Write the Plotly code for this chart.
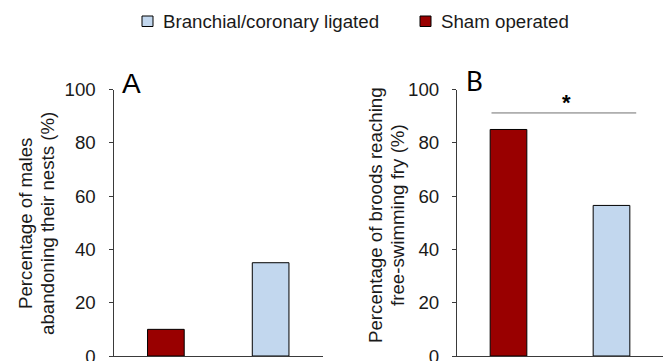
import plotly.graph_objects as go

# Treatment groups and outcome percentages
groups = ["Sham operated", "Branchial/coronary ligated"]
legend_order = ["Branchial/coronary ligated", "Sham operated"]
colors = {"Sham operated": "#990000", "Branchial/coronary ligated": "#C2D7EE"}
abandon_pct = {"Sham operated": 10, "Branchial/coronary ligated": 35}
fry_pct = {"Sham operated": 85, "Branchial/coronary ligated": 56.5}
y_ticks = [0, 20, 40, 60, 80, 100]
sig_level = 91.2  # height of the significance bar in panel B

W, H = 663, 361
FONT = "Liberation Sans, Arial, sans-serif"
FS = 18.7
TXT = "#1a1a1a"
AXC = "#3a3a3a"

fig = go.Figure()

for g in groups:
    fig.add_trace(go.Bar(
        x=[g], y=[abandon_pct[g]], name=g, xaxis="x", yaxis="y",
        marker=dict(color=colors[g], line=dict(color="#000000", width=1)),
        width=0.35, showlegend=False,
    ))
    fig.add_trace(go.Bar(
        x=[g], y=[fry_pct[g]], name=g, xaxis="x2", yaxis="y2",
        marker=dict(color=colors[g], line=dict(color="#000000", width=1)),
        width=0.356, showlegend=False,
    ))

# panel geometry in pixels
ax_a = (113.5, 323)
ax_b = (457, 663)
y_top, y_bot = 89.5, 356
ydom = [(H - y_bot) / H, (H - y_top) / H]

axis_common = dict(
    showgrid=False, zeroline=False, showline=True, linecolor=AXC,
    linewidth=1, automargin=False,
)
y_common = dict(
    axis_common, range=[0, 100], tickvals=y_ticks,
    ticks="outside", ticklen=4, tickcolor=AXC, tickwidth=1,
    ticklabelstandoff=9, ticklabeloverflow="allow",
    tickfont=dict(family=FONT, size=FS, color=TXT), domain=ydom,
)
x_common = dict(axis_common, showticklabels=False, ticks="", type="category",
                range=[-0.5, 1.5], categoryorder="array", categoryarray=groups)

fig.update_layout(
    width=W, height=H,
    margin=dict(l=0, r=0, t=0, b=0),
    paper_bgcolor="white", plot_bgcolor="white",
    barmode="overlay", showlegend=False,
    xaxis=dict(x_common, domain=[ax_a[0] / W, ax_a[1] / W], anchor="y"),
    yaxis=dict(y_common, anchor="x"),
    xaxis2=dict(x_common, domain=[ax_b[0] / W, ax_b[1] / W], anchor="y2"),
    yaxis2=dict(y_common, anchor="x2"),
)

shapes = []
annotations = []

# legend: coloured key squares followed by group names
legend_x = {"Branchial/coronary ligated": 142, "Sham operated": 420}
for g in legend_order:
    x0 = legend_x[g]
    shapes.append(dict(type="rect", xref="paper", yref="paper",
                       x0=x0 / W, x1=(x0 + 11) / W,
                       y0=(H - 26.5) / H, y1=(H - 16) / H,
                       fillcolor=colors[g], line=dict(color="#000000", width=1)))
    annotations.append(dict(text=g, x=(x0 + 19) / W, y=(H - 21) / H,
                            xref="paper", yref="paper", xanchor="left",
                            yanchor="middle", showarrow=False,
                            font=dict(family=FONT, size=FS, color=TXT)))

# significance bar across panel B
shapes.append(dict(type="line", xref="x2", yref="y2", x0=-0.165, x1=1.24,
                   y0=sig_level, y1=sig_level,
                   line=dict(color="#707070", width=1)))
fig.update_layout(shapes=shapes)

annotations += [
    dict(text="A", x=131 / W, y=(H - 83) / H, xref="paper", yref="paper",
         xanchor="center", yanchor="middle", showarrow=False,
         font=dict(family=FONT, size=28, color="#000000")),
    dict(text="B", x=474 / W, y=(H - 81) / H, xref="paper", yref="paper",
         xanchor="center", yanchor="middle", showarrow=False,
         font=dict(family="Lato, Open Sans, sans-serif", size=26, color="#000000")),
    dict(text="<b>*</b>", x=0.56, y=95, xref="x2", yref="y2", showarrow=False,
         xanchor="center", yanchor="middle",
         font=dict(family=FONT, size=22, color="#000000")),
]

# y-axis titles, one annotation per line
titles = [
    ("Percentage of males", 25, 224),
    ("abandoning their nests (%)", 47, 224),
    ("Percentage of broods reaching", 375, 215),
    ("free-swimming fry (%)", 397, 215),
]
for text, xc, yc in titles:
    annotations.append(dict(text=text, x=xc / W, y=(H - yc) / H,
                            xref="paper", yref="paper", textangle=-90,
                            xanchor="center", yanchor="middle", showarrow=False,
                            font=dict(family=FONT, size=FS, color=TXT)))
fig.update_layout(annotations=annotations)

fig.write_html("out.html")
